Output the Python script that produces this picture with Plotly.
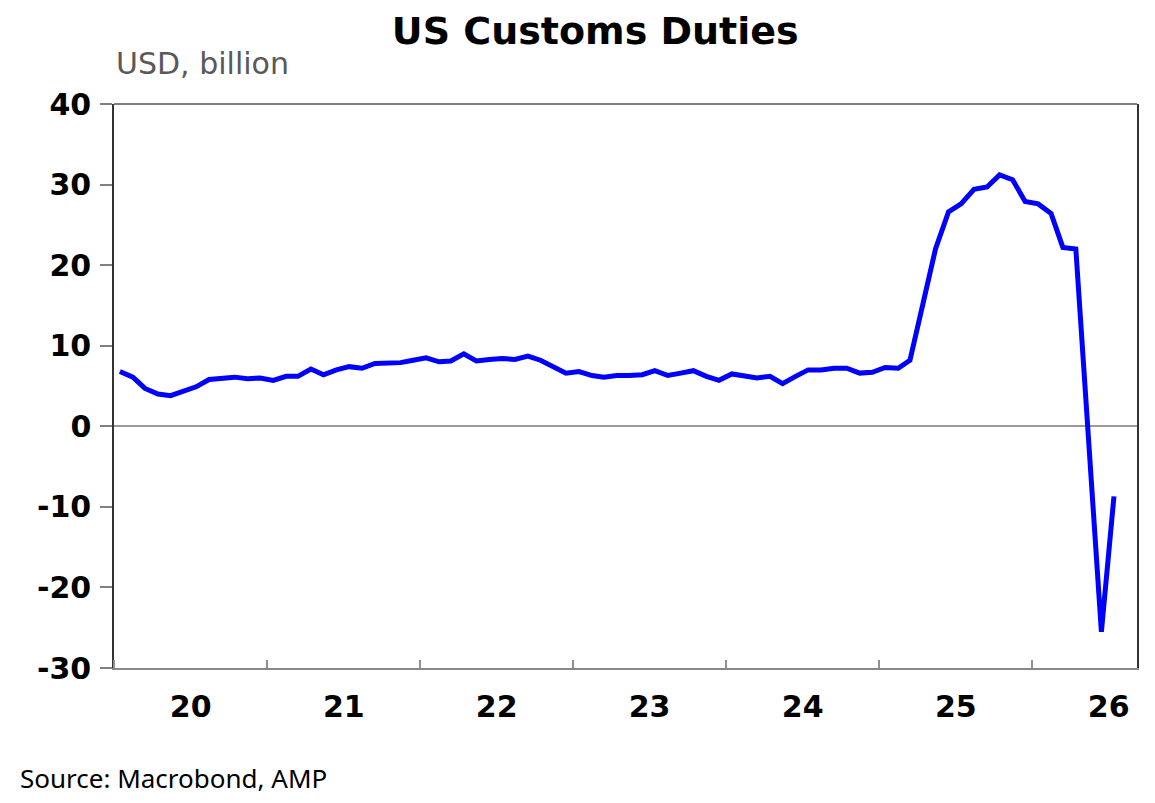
import pandas as pd
import plotly.graph_objects as go

# monthly customs duties, USD billion, Jan 2020 onwards
months = pd.date_range('2020-01-01', periods=79, freq='MS') + pd.Timedelta(days=14)
duties = [6.8, 6.1, 4.7, 4.0, 3.8, 4.3, 4.9, 5.8, 6.0, 6.1, 5.9, 6.0,
          5.7, 6.2, 6.2, 7.1, 6.4, 7.0, 7.4, 7.2, 7.8, 7.8, 7.9, 8.2,
          8.5, 8.0, 8.1, 9.0, 8.1, 8.3, 8.4, 8.3, 8.7, 8.2, 7.3, 6.6,
          6.8, 6.3, 6.1, 6.3, 6.3, 6.4, 6.9, 6.3, 6.6, 6.9, 6.2, 5.7,
          6.5, 6.2, 6.0, 6.2, 5.3, 6.2, 7.0, 7.0, 7.2, 7.2, 6.6, 6.7,
          7.3, 7.2, 8.2, 15.2, 22.0, 26.6, 27.6, 29.4, 29.7, 31.2, 30.6, 27.9,
          27.6, 26.4, 22.2, 22.0, -1.8, -25.5, -8.7]

y_ticks = [-30, -20, -10, 0, 10, 20, 30, 40]
y_labels = ['-30', '-20', '-10', '0', '10', '20', '30', '40']

fig = go.Figure(go.Scatter(x=months, y=duties, mode='lines',
                           line=dict(color='#0000ff', width=5),
                           hoverinfo='x+y'))

# page body adds 8px, so the figure is a little smaller than the window
fig.update_layout(
    width=1147, height=795,
    plot_bgcolor='white', paper_bgcolor='white',
    margin=dict(l=106, r=18, t=96, b=135),
    showlegend=False,
    font=dict(family='DejaVu Sans', color='black'),
    title=dict(text='<b>US Customs Duties</b>', x=0.512, xref='container',
               xanchor='center', y=0.972, yanchor='middle',
               font=dict(family='DejaVu Sans', size=38, color='black')),
)

fig.update_xaxes(
    type='date', range=['2020-01-01', '2026-09-08'],
    dtick='M12', tick0='2020-01-01', tickformat='%y', ticklabelmode='period',
    ticks='inside', ticklen=8, tickwidth=2, tickcolor='#909090',
    showline=True, linecolor='#888888', linewidth=2,
    showgrid=False, zeroline=False, ticklabelstandoff=11,
    tickfont=dict(family='DejaVu Sans', size=30, color='black', weight='bold'),
)

fig.update_yaxes(
    range=[-30, 40], tickvals=y_ticks, ticktext=y_labels,
    ticks='outside', ticklen=12, tickwidth=2, tickcolor='#808080',
    showline=True, linecolor='#333333', linewidth=1.5, mirror=True,
    showgrid=False, zeroline=True, zerolinecolor='#9a9a9a', zerolinewidth=1.5,
    ticklabelstandoff=3,
    tickfont=dict(family='DejaVu Sans', size=30, color='black', weight='bold'),
)

# top border of the plot frame
fig.add_shape(type='line', xref='paper', yref='paper', x0=0, x1=1, y0=1, y1=1,
              line=dict(color='#555555', width=1.5))

fig.add_annotation(text='USD, billion', xref='paper', yref='paper',
                   x=0, y=1.071, xanchor='left', yanchor='middle', showarrow=False,
                   font=dict(family='DejaVu Sans', size=30, color='#595959'))

fig.add_annotation(text='Source: Macrobond, AMP', xref='paper', yref='paper',
                   x=-0.094, y=-0.195, xanchor='left', yanchor='middle', showarrow=False,
                   font=dict(family='Noto Sans', size=26, color='black'))

fig.write_html('out.html')
